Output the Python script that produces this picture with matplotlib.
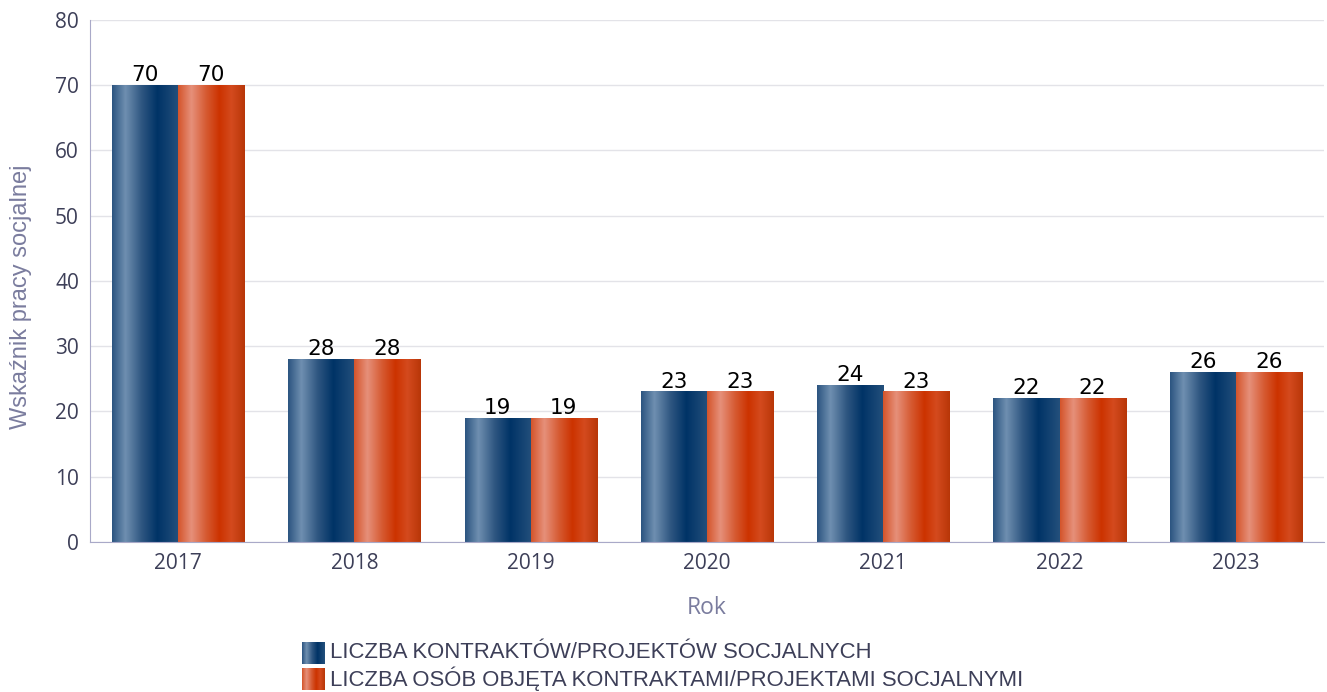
import numpy as np
import matplotlib.pyplot as plt
from matplotlib.colors import LinearSegmentedColormap

# Dane
years = ["2017", "2018", "2019", "2020", "2021", "2022", "2023"]
kontrakty = [70, 28, 19, 23, 24, 22, 26]
osoby = [70, 28, 19, 23, 23, 22, 26]
series_names = ["LICZBA KONTRAKTÓW/PROJEKTÓW SOCJALNYCH",
                "LICZBA OSÓB OBJĘTA KONTRAKTAMI/PROJEKTAMI SOCJALNYMI"]

# Gradienty poziome dla słupków
blue_cmap = LinearSegmentedColormap.from_list(
    "blue", [(0.0, "#2b5480"), (0.2, "#6f8fb0"), (0.45, "#2d5580"),
             (0.68, "#003366"), (1.0, "#24507c")])
orange_cmap = LinearSegmentedColormap.from_list(
    "orange", [(0.0, "#d4542a"), (0.2, "#e6907a"), (0.42, "#d65a32"),
               (0.62, "#cc3300"), (0.8, "#d44a1e"), (1.0, "#b83608")])
grad = np.linspace(0, 1, 256).reshape(1, -1)

text_col = "#3d3f58"
label_col = "#7a7c9e"

fig = plt.figure(figsize=(13.27, 6.92), dpi=100)
ax = fig.add_axes([90 / 1327, 0.2168, 1234 / 1327, 0.7543])

x = np.arange(len(years))
w = 0.375
bars1 = ax.bar(x - w / 2, kontrakty, w, color="none", zorder=2)
bars2 = ax.bar(x + w / 2, osoby, w, color="none", zorder=2)

for bars, cmap in [(bars1, blue_cmap), (bars2, orange_cmap)]:
    for b in bars:
        x0 = b.get_x()
        ax.imshow(grad, cmap=cmap, aspect="auto", zorder=2,
                  extent=[x0, x0 + b.get_width(), 0, b.get_height()])
    for b in bars:
        ax.text(b.get_x() + b.get_width() / 2, b.get_height(), f"{b.get_height():g}",
                ha="center", va="bottom", fontsize=15.5, color="black",
                family="DejaVu Sans", zorder=4)

ax.set_xlim(-0.5, len(years) - 0.5)
ax.set_ylim(0, 80)
ax.set_yticks(range(0, 81, 10))
ax.set_xticks(x)
ax.set_xticklabels(years)
ax.yaxis.grid(True, color="#e3e3e8", linewidth=1, zorder=0)
ax.set_axisbelow(True)

for s in ["top", "right"]:
    ax.spines[s].set_visible(False)
ax.spines["left"].set_color("#a9a9c8")
ax.spines["bottom"].set_color("#a9a9c8")
ax.tick_params(axis="both", length=0, labelsize=15, labelcolor=text_col, pad=8)
for lab in ax.get_xticklabels() + ax.get_yticklabels():
    lab.set_family("Open Sans")

ax.set_xlabel("Rok", fontsize=16.5, color=label_col, family="Open Sans", labelpad=16)
ax.set_ylabel("Wskaźnik pracy socjalnej", fontsize=17, color=label_col,
              family="Liberation Sans")
ax.yaxis.set_label_coords(-0.047, 0.47)

# Legenda
for i, (name, cmap) in enumerate(zip(series_names, [blue_cmap, orange_cmap])):
    ytop = 642 + i * 26
    sw = fig.add_axes([302 / 1327, 1 - (ytop + 22) / 692, 23 / 1327, 22 / 692])
    sw.imshow(grad, cmap=cmap, aspect="auto")
    sw.set_axis_off()
    fig.text(330 / 1327, 1 - (ytop + 11) / 692, name, fontsize=15.9, color=text_col,
             family="Liberation Sans", va="center", ha="left")

fig.savefig("out.png", dpi=100)
